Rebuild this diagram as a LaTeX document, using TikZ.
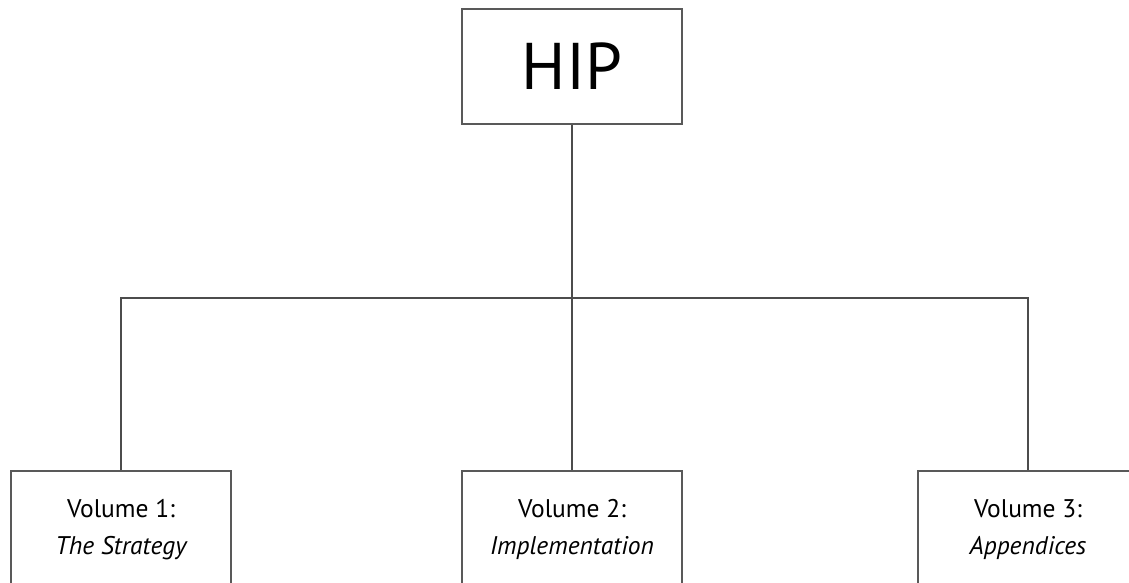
\documentclass[tikz,border=0pt]{standalone}
\usepackage{fontspec}
\setmainfont{PT Sans}
\begin{document}
\begin{tikzpicture}[x=1pt,y=-1pt,
  boxstyle/.style={draw=black!65,line width=1.6pt,fill=white,rectangle,inner sep=0pt},
  volbox/.style={boxstyle,minimum width=220pt,minimum height=118pt,anchor=north,align=center,font=\fontsize{25.5}{37}\selectfont},
  conn/.style={draw=black!70,line width=1.5pt}]
\useasboundingbox (0,0) rectangle (1129,582);
\clip (0,0) rectangle (1129,582);
\fill[white] (0,0) rectangle (1129,582);
\node[boxstyle,minimum width=220pt,minimum height=115pt,font=\fontsize{66}{70}\selectfont] (hip) at (572,66.5) {HIP};
\node[volbox] (v1) at (121,470) {Volume 1:\\\itshape The Strategy};
\node[volbox] (v2) at (572,470) {Volume 2:\\\itshape Implementation};
\node[volbox] (v3) at (1028,470) {Volume 3:\\\itshape Appendices};
\coordinate (j) at (572,298);
\draw[conn] (hip.south) -- (j);
\draw[conn] (v1.north) -- (121,298) -- (1028,298) -- (v3.north);
\draw[conn] (j) -- (v2.north);
\end{tikzpicture}
\end{document}
